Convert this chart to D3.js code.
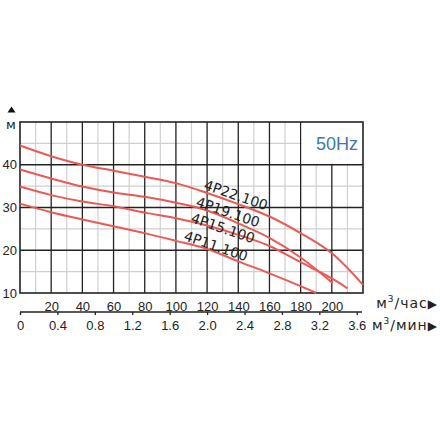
<!DOCTYPE html>
<html>
<head>
<meta charset="utf-8">
<script src="https://cdn.jsdelivr.net/npm/d3@7"></script>
<style>
  body { margin: 0; background: #fff; }
  svg { display: block; }
</style>
</head>
<body>
<script>
// flow in m3/h, head in m
let flowTicks = [20, 40, 60, 80, 100, 120, 140, 160, 180, 200];
let minTicks = [0, 0.4, 0.8, 1.2, 1.6, 2.0, 2.4, 2.8, 3.2, 3.6];
let headTicks = [10, 20, 30, 40];

let p22 = [[0,44.5],[20,42.0],[40,40.0],[60,38.6],[80,37.2],[100,35.7],[120,33.4],[140,30.8],[160,27.9],[180,24.0],[200,19.3],[220,11.9]];
let p19 = [[0,38.9],[20,36.8],[40,34.9],[60,33.5],[80,32.5],[100,31.1],[120,29.3],[140,26.3],[160,22.9],[180,18.3],[200.6,12.3]];
let p15 = [[0,34.9],[20,32.9],[40,31.4],[60,30.3],[80,28.8],[100,27.5],[120,25.8],[140,23.6],[160,21.0],[180,17.2],[200,13.4],[210,11.1]];
let p11 = [[0,30.9],[20,28.9],[40,27.2],[60,25.6],[80,24.0],[100,22.2],[120,20.3],[140,17.4],[160,14.6],[180,11.6],[190,10.0]];

let curves = [
    {name: "4P22.100", pts: p22, lx: 236, ly: 195},
    {name: "4P19.100", pts: p19, lx: 228, ly: 212},
    {name: "4P15.100", pts: p15, lx: 223, ly: 228},
    {name: "4P11.100", pts: p11, lx: 216, ly: 246}
];

function main(){
    let width = 440, height = 440;

    let svg = d3.select("body").append("svg")
        .attr("width", width)
        .attr("height", height);

    let x = d3.scaleLinear().domain([0, 220]).range([20, 363]);
    let y = d3.scaleLinear().domain([10, 50]).range([293, 122]);
    let x2 = d3.scaleLinear().domain([0, 220 / 60]).range([20, 363]);

    let grid = svg.append("g");

    // minor grid
    grid.selectAll(".vmin")
        .data(d3.range(10, 220, 20))
        .enter().append("line")
        .attr("x1", d => x(d)).attr("x2", d => x(d))
        .attr("y1", y(50)).attr("y2", y(10))
        .style("stroke", "#cfcfcf").style("stroke-width", 1.2);
    grid.selectAll(".hmin")
        .data(d3.range(15, 50, 10))
        .enter().append("line")
        .attr("x1", x(0)).attr("x2", x(220))
        .attr("y1", d => y(d)).attr("y2", d => y(d))
        .style("stroke", "#cfcfcf").style("stroke-width", 1.2);

    // major grid
    grid.selectAll(".vmaj")
        .data(d3.range(20, 220, 20))
        .enter().append("line")
        .attr("x1", d => x(d)).attr("x2", d => x(d))
        .attr("y1", y(50)).attr("y2", y(10))
        .style("stroke", "#222").style("stroke-width", 1.3);
    grid.selectAll(".hmaj")
        .data([20, 30, 40])
        .enter().append("line")
        .attr("x1", x(0)).attr("x2", x(220))
        .attr("y1", d => y(d)).attr("y2", d => y(d))
        .style("stroke", "#222").style("stroke-width", 1.3);

    // 50Hz box
    svg.append("rect")
        .attr("x", x(180) + 1).attr("y", y(50))
        .attr("width", x(220) - x(180) - 1)
        .attr("height", y(40) - y(50) - 1)
        .style("fill", "#fff");
    svg.append("text")
        .attr("x", 337).attr("y", 150)
        .attr("text-anchor", "middle")
        .attr("font-family", "Liberation Sans, Arial, sans-serif")
        .attr("font-size", 18)
        .style("fill", "#3a78ad")
        .text("50Hz");

    // frame
    svg.append("rect")
        .attr("x", x(0)).attr("y", y(50))
        .attr("width", x(220) - x(0))
        .attr("height", y(10) - y(50))
        .style("fill", "none").style("stroke", "#222").style("stroke-width", 1.6);

    // curves
    let line = d3.line()
        .x(d => x(d[0]))
        .y(d => y(d[1]))
        .curve(d3.curveCatmullRom);

    svg.selectAll(".curve")
        .data(curves)
        .enter().append("path")
        .attr("d", d => line(d.pts))
        .style("fill", "none")
        .style("stroke", "#ea5a55")
        .style("stroke-width", 2);

    svg.selectAll(".clabel")
        .data(curves)
        .enter().append("text")
        .attr("transform", d => "translate(" + d.lx + "," + d.ly + ") rotate(19)")
        .attr("text-anchor", "middle")
        .attr("dominant-baseline", "central")
        .attr("font-family", "DejaVu Sans, sans-serif")
        .attr("font-size", 14)
        .style("fill", "#222")
        .text(d => d.name);

    // y labels
    svg.selectAll(".ylab")
        .data(headTicks)
        .enter().append("text")
        .attr("x", 17).attr("y", d => y(d))
        .attr("text-anchor", "end")
        .attr("dominant-baseline", "central")
        .attr("font-family", "Liberation Sans, Arial, sans-serif")
        .attr("font-size", 13)
        .style("fill", "#222")
        .text(d => d);

    svg.append("path")
        .attr("d", "M7.5,112.5 L11.5,106.5 L15.5,112.5 Z")
        .style("fill", "#111");
    svg.append("text")
        .attr("x", 11).attr("y", 129)
        .attr("text-anchor", "middle")
        .attr("font-family", "DejaVu Sans, sans-serif")
        .attr("font-size", 13)
        .style("fill", "#222")
        .text("м");

    // x labels m3/h
    let xAxis = d3.axisBottom(x).tickValues(flowTicks).tickSize(0).tickPadding(6);
    let gx = svg.append("g")
        .attr("transform", "translate(0," + 296 + ")")
        .call(xAxis);
    gx.select(".domain").remove();
    gx.selectAll("text")
        .attr("font-family", "Liberation Sans, Arial, sans-serif")
        .attr("font-size", 13)
        .style("fill", "#222");

    // second axis m3/min
    let x2Axis = d3.axisBottom(x2).tickValues(minTicks)
        .tickSize(3).tickSizeOuter(0).tickPadding(6)
        .tickFormat(d => d === 0 ? "0" : d3.format(".1f")(d));
    let gx2 = svg.append("g")
        .attr("transform", "translate(0," + 312 + ")")
        .call(x2Axis);
    gx2.select(".domain").attr("d", "M" + x2(0) + ",0H" + 362).style("stroke", "#222").style("stroke-width", 1.3);
    gx2.selectAll(".tick line").style("stroke", "#222").style("stroke-width", 1.3);
    gx2.selectAll("text")
        .attr("font-family", "Liberation Sans, Arial, sans-serif")
        .attr("font-size", 13)
        .style("fill", "#222");

    // unit labels
    let units = svg.append("g")
        .attr("font-family", "DejaVu Sans, sans-serif")
        .attr("font-size", 14)
        .attr("letter-spacing", 1)
        .style("fill", "#222");
    let u1 = units.append("text").attr("x", 438).attr("y", 308).attr("text-anchor", "end");
    u1.append("tspan").text("м");
    u1.append("tspan").attr("font-size", 9).attr("dy", -6).text("3");
    u1.append("tspan").attr("dy", 6).text("/час");
    u1.append("tspan").attr("font-size", 12).text("▶");
    let u2 = units.append("text").attr("x", 438).attr("y", 330).attr("text-anchor", "end");
    u2.append("tspan").text("м");
    u2.append("tspan").attr("font-size", 9).attr("dy", -6).text("3");
    u2.append("tspan").attr("dy", 6).text("/мин");
    u2.append("tspan").attr("font-size", 12).text("▶");
}

main();
</script>
</body>
</html>
